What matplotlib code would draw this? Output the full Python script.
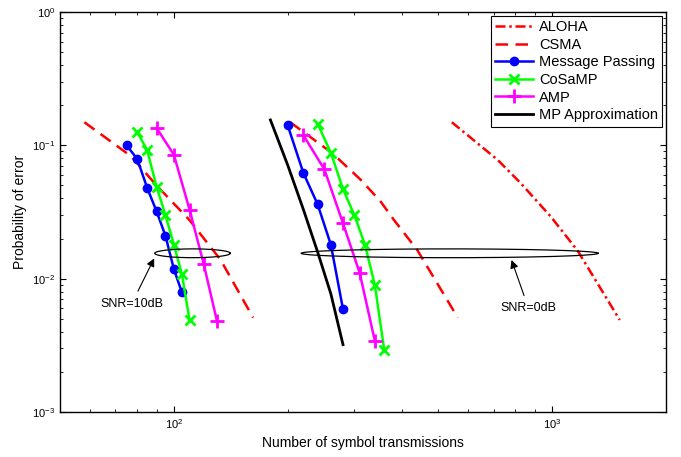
import numpy as np
import matplotlib
matplotlib.use("Agg")
from matplotlib import pyplot as plt

plt.rcParams['font.family'] = ['Liberation Sans', 'DejaVu Sans']

# SNR = 10dB group
mp10_x = [75, 80, 85, 90, 95, 100, 105]
mp10_y = [0.1, 0.079, 0.048, 0.032, 0.021, 0.0118, 0.0079]
cosamp10_x = [80, 85, 90, 95, 100, 105, 110]
cosamp10_y = [0.126, 0.092, 0.049, 0.030, 0.018, 0.0108, 0.0049]
amp10_x = [90, 100, 110, 120, 130]
amp10_y = [0.135, 0.085, 0.033, 0.0128, 0.0048]
csma10_x = [58, 77, 90, 110, 133, 162]
csma10_y = [0.149, 0.083, 0.050, 0.0275, 0.0138, 0.0051]

# SNR = 0dB group
mp0_x = [200, 220, 240, 260, 280]
mp0_y = [0.141, 0.062, 0.036, 0.018, 0.0059]
cosamp0_x = [240, 260, 280, 300, 320, 340, 360]
cosamp0_y = [0.145, 0.088, 0.047, 0.030, 0.018, 0.0089, 0.0029]
amp0_x = [220, 250, 280, 310, 340]
amp0_y = [0.119, 0.066, 0.026, 0.011, 0.0034]
csma0_x = [203, 262, 312, 352, 382, 440, 563]
csma0_y = [0.149, 0.0876, 0.0551, 0.0379, 0.0275, 0.0164, 0.0051]
aloha_x = [543, 717, 826, 992, 1168, 1509]
aloha_y = [0.149, 0.078, 0.052, 0.0292, 0.0162, 0.0049]
mpapprox_x = [180, 200, 220, 240, 260, 280]
mpapprox_y = [0.155, 0.071, 0.033, 0.0158, 0.0077, 0.0032]

# ellipses marking the two groups: (x left, x right, y centre)
ell10 = (89, 141, 0.0155)
ell0 = (217, 1324, 0.0155)


def ellipse(ax, x0, x1, yc, half_dec=0.033):
    t = np.linspace(0, 2 * np.pi, 200)
    lc = (np.log10(x0) + np.log10(x1)) / 2
    hw = (np.log10(x1) - np.log10(x0)) / 2
    ax.plot(10 ** (lc + hw * np.cos(t)), 10 ** (np.log10(yc) + half_dec * np.sin(t)),
            color='k', lw=0.9)


fig = plt.figure(figsize=(6.81, 4.57), dpi=100)
ax = fig.add_axes([60 / 681, 1 - 412 / 457, 606 / 681, 400 / 457])

red_dd = dict(color='#ff0000', lw=1.8, dashes=(4, 1.5, 1, 1.5))
red_d = dict(color='#ff0000', lw=1.8, dashes=(5, 3))
blue = dict(color='#0000ff', lw=1.8, marker='o', ms=6)
green = dict(color='#00ff00', lw=1.8, marker='x', ms=7, mew=2)
mag = dict(color='#ff00ff', lw=1.8, marker='+', ms=10, mew=2)
blk = dict(color='k', lw=2)

ax.plot(aloha_x, aloha_y, label='ALOHA', **red_dd)
ax.plot(csma0_x, csma0_y, label='CSMA', **red_d)
ax.plot(mp0_x, mp0_y, label='Message Passing', **blue)
ax.plot(cosamp0_x, cosamp0_y, label='CoSaMP', **green)
ax.plot(amp0_x, amp0_y, label='AMP', **mag)
ax.plot(mpapprox_x, mpapprox_y, label='MP Approximation', **blk)

ax.plot(csma10_x, csma10_y, **red_d)
ax.plot(mp10_x, mp10_y, **blue)
ax.plot(cosamp10_x, cosamp10_y, **green)
ax.plot(amp10_x, amp10_y, **mag)

ellipse(ax, *ell10)
ellipse(ax, *ell0)

arrow = dict(arrowstyle='-|>', color='k', lw=0.8, mutation_scale=12, shrinkA=3, shrinkB=0)
ax.annotate('SNR=10dB', xy=(88.7, 0.0142), xytext=(77.4, 0.0065),
            ha='center', va='center', fontsize=9, arrowprops=arrow)
ax.annotate('SNR=0dB', xy=(781, 0.0138), xytext=(866, 0.0060),
            ha='center', va='center', fontsize=9, arrowprops=arrow)

ax.set_xscale('log')
ax.set_yscale('log')
ax.set_xlim(50, 2000)
ax.set_ylim(1e-3, 1)
ax.tick_params(which='both', direction='in', top=True, right=True, labelsize=8)
ax.tick_params(which='major', length=4)
ax.tick_params(which='minor', length=2)
for s in ax.spines.values():
    s.set_linewidth(1.0)

ax.set_xlabel('Number of symbol transmissions', fontsize=10)
ax.set_ylabel('Probability of error', fontsize=10)

leg = ax.legend(loc='upper right', fontsize=10.5, fancybox=False, edgecolor='k',
                framealpha=1, borderaxespad=0.25, handlelength=2.6, labelspacing=0.25,
                borderpad=0.3, handletextpad=0.4)
leg.get_frame().set_linewidth(0.8)

fig.savefig('out.png', dpi=100)
